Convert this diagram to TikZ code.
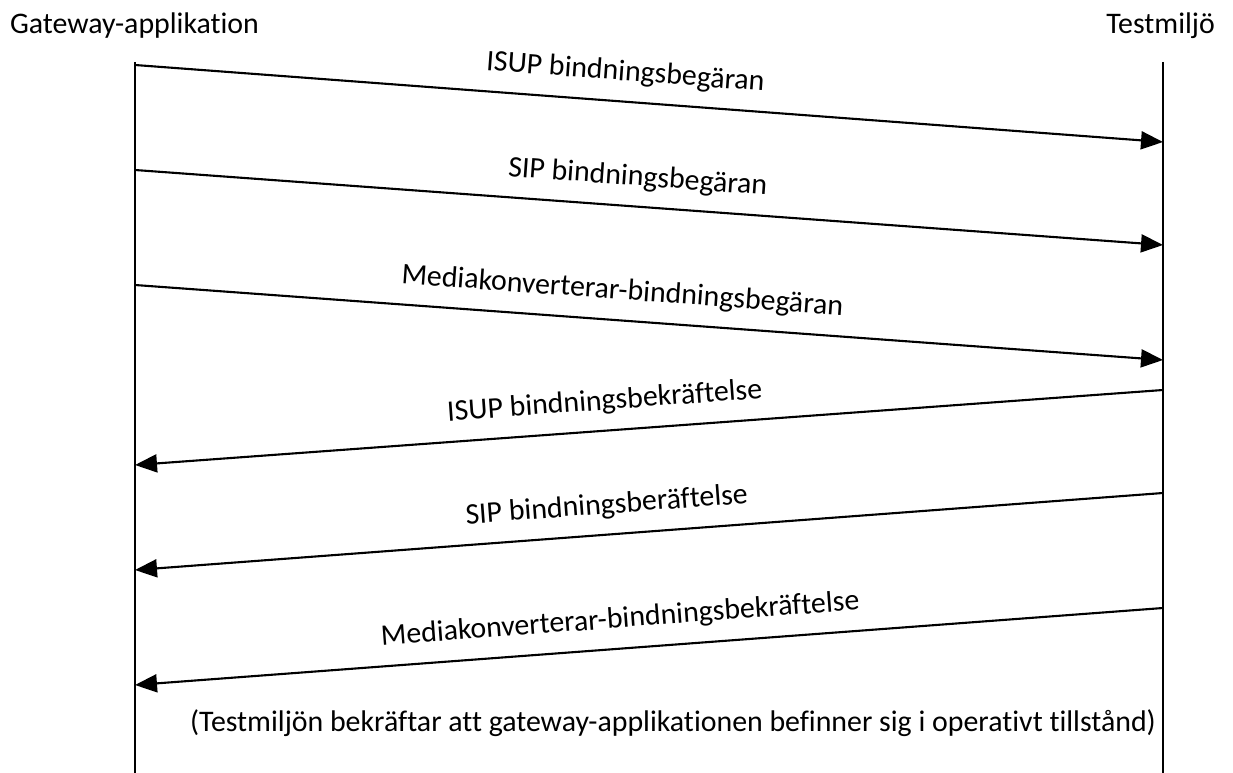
\documentclass[tikz,border=0pt]{standalone}
\usepackage{fontspec}
\setmainfont{Carlito}[Ligatures=NoCommon]
\usetikzlibrary{arrows.meta, positioning}

\begin{document}
\begin{tikzpicture}[
  x=0.02cm, y=-0.02cm,
  lbl/.style={font=\fontsize{17}{20}\selectfont, inner sep=1pt},
  lifeline/.style={line width=1.1pt},
  msg/.style={-{Triangle[length=4.4mm, width=3.6mm]}, line width=1.2pt},
  tag/.style={lbl, sloped, above=0.26cm}
]
  \useasboundingbox (0,0) rectangle (1233,773);

  \node[lbl, anchor=west] (gw) at (8,26) {Gateway-applikation};
  \node[lbl, anchor=east] (env) at (1217,26) {Testmiljö};

  \coordinate (gtop) at (135,62);
  \coordinate (gbot) at (135,773);
  \coordinate (ttop) at (1163,62);
  \coordinate (tbot) at (1163,773);
  \draw[lifeline] (gtop) -- (gbot);
  \draw[lifeline] (ttop) -- (tbot);

  \coordinate (g1) at (135,65);   \coordinate (t1) at (1163,142);
  \coordinate (g2) at (135,170);  \coordinate (t2) at (1163,245);
  \coordinate (g3) at (135,285);  \coordinate (t3) at (1163,360);
  \coordinate (t4) at (1163,390); \coordinate (g4) at (135,465);
  \coordinate (t5) at (1163,493); \coordinate (g5) at (135,570);
  \coordinate (t6) at (1163,608); \coordinate (g6) at (135,685);

  \draw[msg] (g1) -- node[tag, pos=0.475] (m1) {ISUP bindningsbegäran} (t1);
  \draw[msg] (g2) -- node[tag, pos=0.487] (m2) {SIP bindningsbegäran} (t2);
  \draw[msg] (g3) -- node[tag, pos=0.472] (m3) {Mediakonverterar-bindningsbegäran} (t3);
  \draw[msg] (t4) -- node[tag, pos=0.541] (m4) {ISUP bindningsbekräftelse} (g4);
  \draw[msg] (t5) -- node[tag, pos=0.539] (m5) {SIP bindningsberäftelse} (g5);
  \draw[msg] (t6) -- node[tag, pos=0.526] (m6) {Mediakonverterar-bindningsbekräftelse} (g6);

  \node[lbl] (note) at (673,723) {(Testmiljön bekräftar att gateway-applikationen befinner sig i operativt tillstånd)};
\end{tikzpicture}
\end{document}
